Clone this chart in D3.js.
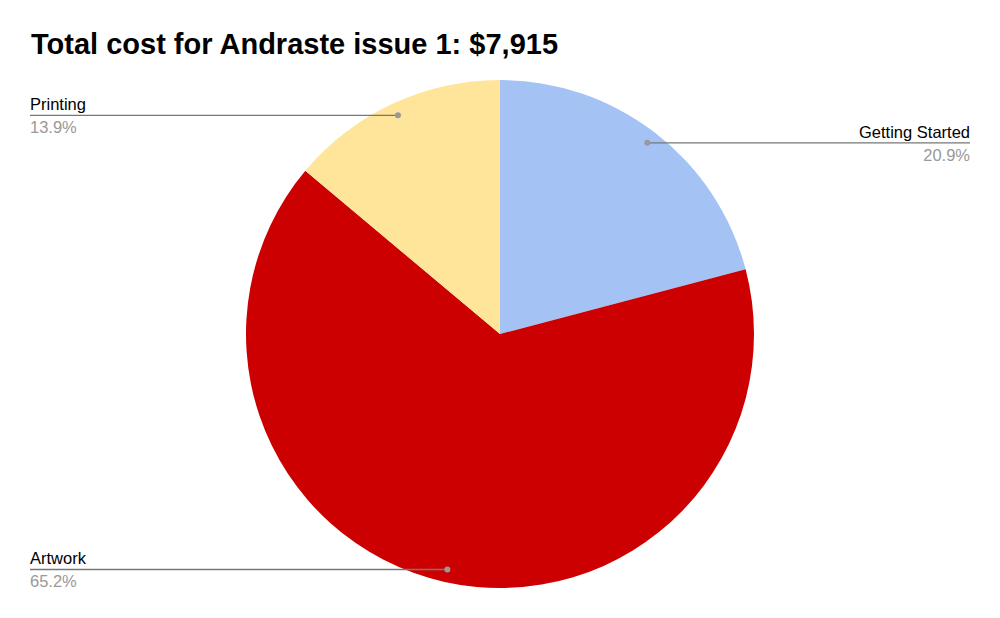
<!DOCTYPE html>
<html>
<head>
<meta charset="utf-8">
<script src="https://cdn.jsdelivr.net/npm/d3@7"></script>
<style>
  body { margin: 0; background: #fff; }
  svg { display: block; font-family: "Liberation Sans", Arial, sans-serif; }
</style>
</head>
<body>
<svg id="chart" width="1000" height="618"></svg>
<script>
var title = "Total cost for Andraste issue 1: $7,915";
var categories = ["Getting Started", "Artwork", "Printing"];
var shares = [20.9, 65.2, 13.9];
var colors = ["#a4c2f4", "#cc0000", "#ffe599"];
// which side the label sits on
var sides = ["right", "left", "left"];

var svg = d3.select("#chart"),
    width = 1000,
    cx = 500,
    cy = 334,
    radius = 254;

svg.append("text")
    .attr("x", 31)
    .attr("y", 54)
    .attr("font-size", 29)
    .attr("font-weight", "bold")
    .attr("fill", "#000")
    .text(title);

var data = categories.map(function (c, i) {
    return { name: c, value: shares[i], color: colors[i], side: sides[i] };
});

var pie = d3.pie()
    .sort(null)
    .value(function (d) { return d.value; });

var arc = d3.arc()
    .innerRadius(0)
    .outerRadius(radius);

var dotArc = d3.arc()
    .innerRadius(radius * 0.95)
    .outerRadius(radius * 0.95);

var g = svg.append("g").attr("transform", "translate(" + cx + "," + cy + ")");

var arcs = pie(data);

g.selectAll("path.slice")
    .data(arcs)
    .enter()
    .append("path")
    .attr("class", "slice")
    .attr("fill", function (d) { return d.data.color; })
    .attr("d", arc);

// labels with leader lines
var labels = svg.append("g");
arcs.forEach(function (d) {
    var p = dotArc.centroid(d),
        px = cx + p[0],
        py = cy + p[1],
        tx = d.data.side == "right" ? 970 : 30,
        anchor = d.data.side == "right" ? "end" : "start";

    labels.append("line")
        .attr("x1", px).attr("y1", py)
        .attr("x2", tx).attr("y2", py)
        .attr("stroke", "#777")
        .attr("stroke-width", 1.3);

    labels.append("circle")
        .attr("cx", px).attr("cy", py)
        .attr("r", 3)
        .attr("fill", "#999");

    labels.append("text")
        .attr("x", tx).attr("y", py - 5)
        .attr("text-anchor", anchor)
        .attr("font-size", 16.5)
        .attr("fill", "#000")
        .text(d.data.name);

    labels.append("text")
        .attr("x", tx).attr("y", py + 18)
        .attr("text-anchor", anchor)
        .attr("font-size", 16.5)
        .attr("fill", "#999")
        .text(d3.format(".1f")(d.data.value) + "%");
});
</script>
</body>
</html>
